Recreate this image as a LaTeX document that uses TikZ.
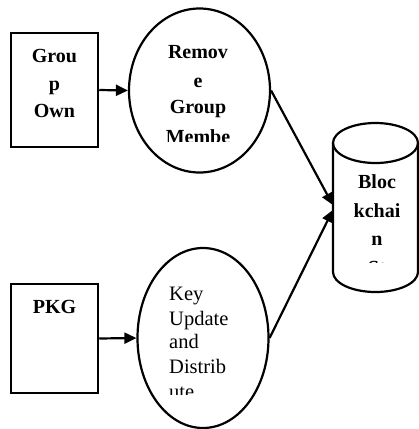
\documentclass[tikz,border=0pt]{standalone}
\usepackage{fontspec}
\setmainfont{Liberation Serif}
\usetikzlibrary{arrows.meta,shapes.geometric}
\begin{document}
\begin{tikzpicture}[x=1bp,y=-1bp,
  boxnode/.style={draw,line width=2.5bp,rectangle,inner sep=0,minimum width=87bp},
  ovalnode/.style={draw,line width=2.2bp,ellipse,inner sep=0},
  bt/.style={font=\fontsize{20bp}{24bp}\selectfont\bfseries,inner sep=0,anchor=base},
  nt/.style={font=\fontsize{20.5bp}{24bp}\selectfont,inner sep=0,anchor=base west},
  link/.style={line width=2.2bp,-{Triangle[length=12bp,width=11bp]}}]
\useasboundingbox (0,0) rectangle (419,429);

% shapes
\node[boxnode,minimum height=114bp] (own) at (54.5,90) {};
\node[boxnode,minimum height=109bp] (pkg) at (54.5,338.5) {};
\node[ovalnode,minimum width=141bp,minimum height=164bp] (remove) at (199.5,90.5) {};
\node[ovalnode,minimum width=131bp,minimum height=180bp] (keyupd) at (203,338) {};

% storage cylinder
\node[rectangle,inner sep=0,minimum width=85bp,minimum height=170bp] (chain) at (375.5,207.5) {};
\draw[line width=2.2bp] (375.5,143) ellipse [x radius=42.5, y radius=20];
\draw[line width=2.2bp] (333,143) -- (333,272)
  arc[start angle=180,end angle=360,x radius=42.5,y radius=-20] -- (418,143);

% connectors
\draw[link] (own.east) -- (remove.west);
\draw[link] (pkg.east) -- (keyupd.west);
\draw[link] (remove.east) -- ([yshift=2.5bp]chain.west);
\draw[link] (keyupd.east) -- ([yshift=-2.5bp]chain.west);

% labels
\node[bt] (own1) at (54.5,62) {Grou};
\node[bt] (own2) at (54.5,90) {p};
\node[bt] (own3) at (54.5,117) {Own};
\node[bt] (pkgl) at (54.5,313) {PKG};

\node[bt] (rm1) at (198,58) {Remov};
\node[bt] (rm2) at (198,87) {e};
\node[bt] (rm3) at (198,113) {Group};
\begin{scope}
  \clip (140,120) rectangle (260,141);
  \node[bt] (rm4) at (198,143) {Membe};
\end{scope}

\node[bt] (bc1) at (377,188) {Bloc};
\node[bt] (bc2) at (377,217) {kchai};
\node[bt] (bc3) at (377,245) {n};
\begin{scope}
  \clip (340,250) rectangle (412,262);
  \node[bt] (bc4) at (377,274) {St};
\end{scope}

\node[nt] (ku1) at (169,300) {Key};
\node[nt] (ku2) at (169,325) {Update};
\node[nt] (ku3) at (169,348) {and};
\node[nt] (ku4) at (169,373) {Distrib};
\begin{scope}
  \clip (160,380) rectangle (250,394);
  \node[nt] (ku5) at (169,398) {ute};
\end{scope}
\end{tikzpicture}
\end{document}
